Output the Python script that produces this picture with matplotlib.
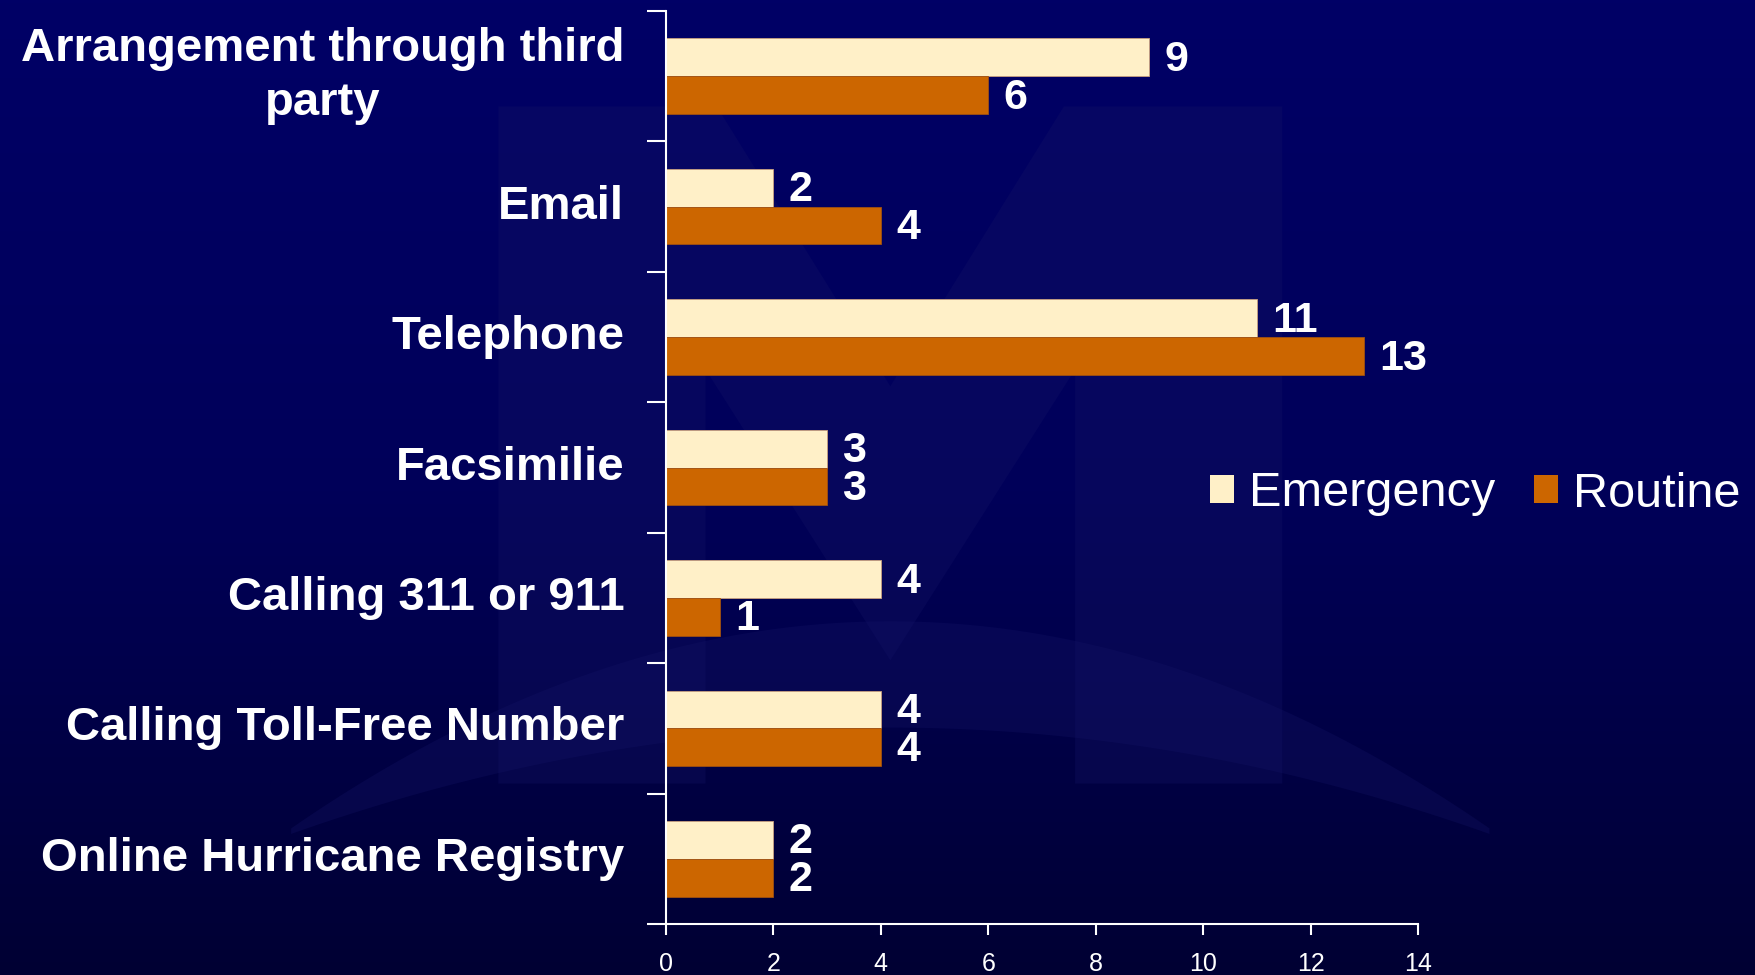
import numpy as np
import matplotlib.pyplot as plt
from matplotlib.patches import Patch, Polygon

categories = ["Arrangement through third\nparty", "Email", "Telephone", "Facsimilie",
              "Calling 311 or 911", "Calling Toll-Free Number", "Online Hurricane Registry"]
emergency = [9, 2, 11, 3, 4, 4, 2]
routine = [6, 4, 13, 3, 1, 4, 2]
xticks = [0, 2, 4, 6, 8, 10, 12, 14]

plt.rcParams['font.family'] = ['Liberation Sans', 'DejaVu Sans']

fig = plt.figure(figsize=(17.56, 9.75), dpi=100)

# background: vertical gradient + faint logo watermark
bg = fig.add_axes([0, 0, 1, 1], zorder=-10)
g = np.linspace(0, 1, 300)
blue = np.interp(g, [0, 0.5, 1], [0.40, 0.35, 0.20])
img = np.dstack([np.zeros((300, 2)), np.zeros((300, 2)), np.tile(blue[:, None], (1, 2))])
bg.imshow(img, aspect='auto', extent=[0, 1568, 871, 0])
wm = (0.08, 0.08, 0.40)
m_shape = [(445, 700), (445, 95), (640, 95), (795, 345), (950, 95), (1145, 95),
           (1145, 700), (960, 700), (960, 330), (795, 590), (630, 330), (630, 700)]
bg.add_patch(Polygon(m_shape, closed=True, facecolor=wm, edgecolor='none', alpha=0.3))
t = np.linspace(-1, 1, 100)
upper = [(795 + 535 * v, 740 - 185 * (1 - v ** 2)) for v in t]
lower = [(795 + 535 * v, 745 - 95 * (1 - v ** 2)) for v in t[::-1]]
bg.add_patch(Polygon(upper + lower, closed=True, facecolor=wm, edgecolor='none', alpha=0.3))
bg.set_xlim(0, 1568)
bg.set_ylim(871, 0)
bg.axis('off')

ax = fig.add_axes([666 / 1756, 1 - 924 / 975, (1418 - 666) / 1756, (924 - 11) / 975])
ax.set_facecolor('none')

n = len(categories)
y = np.arange(n)
h = 0.29
ax.barh(y - h / 2, emergency, height=h, color='#FFF0C8', edgecolor='#c8a080', linewidth=0.6)
ax.barh(y + h / 2, routine, height=h, color='#CC6600', edgecolor='#a05010', linewidth=0.6)

for i in range(n):
    ax.text(emergency[i] + 0.28, y[i] - h / 2 + 0.02, str(emergency[i]), color='white',
            fontsize=31, fontweight='bold', va='center', ha='left')
    ax.text(routine[i] + 0.28, y[i] + h / 2 + 0.02, str(routine[i]), color='white',
            fontsize=31, fontweight='bold', va='center', ha='left')

ax.set_ylim(n - 0.5, -0.5)
ax.set_xlim(0, 14)
ax.set_xticks(xticks)
ax.set_xticklabels([str(t) for t in xticks], color='white', fontsize=18)

ax.set_yticks(np.arange(n + 1) - 0.5)
ax.set_yticklabels([])
ax.set_yticks(y, minor=True)
ax.set_yticklabels(categories, minor=True, color='white', fontsize=34, fontweight='bold')
ax.tick_params(axis='y', which='minor', length=0, pad=30)
ax.tick_params(axis='y', which='major', length=14, width=1.5, color='white', direction='out')
ax.tick_params(axis='x', length=8, width=1.5, color='white', direction='out', pad=12)
for lbl in ax.get_yticklabels(minor=True):
    lbl.set_multialignment('center')
    lbl.set_linespacing(1.3)
    lbl.set_va('center')

for s in ['top', 'right']:
    ax.spines[s].set_visible(False)
for s in ['left', 'bottom']:
    ax.spines[s].set_color('white')
    ax.spines[s].set_linewidth(1.5)

handles = [Patch(facecolor='#FFF0C8', label='Emergency'), Patch(facecolor='#CC6600', label='Routine')]
fig.legend(handles=handles, loc='center', bbox_to_anchor=(1475 / 1756, 1 - 494 / 975), ncol=2,
           frameon=False, fontsize=35, labelcolor='white', handlelength=0.5, handleheight=0.5,
           handletextpad=0.3, columnspacing=0.8, borderpad=0)

fig.savefig('out.png', dpi=100)
